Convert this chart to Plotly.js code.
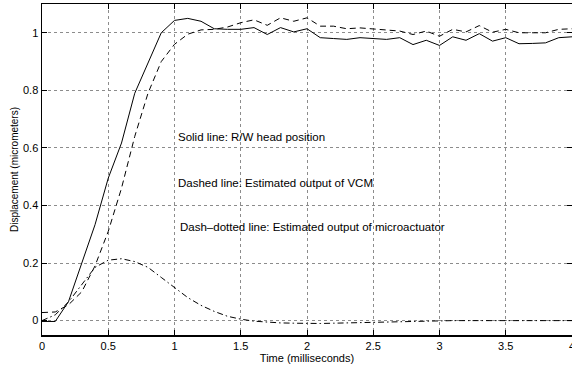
<!DOCTYPE html>
<html>
<head>
<meta charset="utf-8">
<script src="https://cdn.plot.ly/plotly-3.0.1.min.js"></script>
<style>html,body{margin:0;padding:0;background:#fff;overflow:hidden}#chart{width:572px;height:367px}</style>
</head>
<body>
<div id="chart"></div>
<script>
// time axis (milliseconds), sampled every 0.1 ms
const time = [0,0.1,0.2,0.3,0.4,0.5,0.6,0.7,0.8,0.9,1.0,1.1,1.2,1.3,1.4,1.5,1.6,1.7,1.8,1.9,2.0,
  2.1,2.2,2.3,2.4,2.5,2.6,2.7,2.8,2.9,3.0,3.1,3.2,3.3,3.4,3.5,3.6,3.7,3.8,3.9,4.0];
// Solid line: R/W head position
const headPosition = [-0.003,-0.003,0.066,0.2,0.333,0.495,0.617,0.79,0.896,1.0,1.043,1.05,1.04,1.014,1.012,1.012,1.018,0.994,1.018,1.003,1.014,
  0.983,0.98,0.977,0.983,0.98,0.977,0.983,0.959,0.974,0.956,0.986,0.974,0.997,0.971,0.983,0.962,0.963,0.965,0.983,0.986];
// Dashed line: estimated output of VCM
const vcmOutput = [0.028,0.03,0.055,0.1,0.19,0.31,0.46,0.64,0.79,0.9,0.96,0.995,1.01,1.012,1.02,1.035,1.045,1.026,1.052,1.04,1.052,
  1.023,1.023,1.014,1.017,1.014,1.011,1.006,0.994,1.006,0.988,1.012,1.003,1.025,1.002,1.012,1.0,1.0,1.0,1.012,1.014];
// Dash-dotted line: estimated output of microactuator
const microOutput = [0,0.02,0.065,0.125,0.185,0.21,0.215,0.205,0.185,0.15,0.115,0.08,0.053,0.032,0.015,0.005,-0.002,-0.006,-0.008,-0.009,-0.01,
  -0.01,-0.009,-0.008,-0.006,-0.004,-0.003,-0.003,-0.002,-0.002,-0.001,0,0,0,0,0,0,0,0,0,0];

const xTicks = [0,0.5,1,1.5,2,2.5,3,3.5,4];
const xTickText = ['0','0.5','1','1.5','2','2.5','3','3.5','4'];
const yTicks = [0,0.2,0.4,0.6,0.8,1];
const yTickText = ['0','0.2','0.4','0.6','0.8','1'];

const notes = [
  {text:'Solid line: R/W head position', x:1.027, y:0.637},
  {text:'Dashed line: Estimated output of VCM', x:1.027, y:0.478},
  {text:'Dash\u2013dotted line: Estimated output of microactuator', x:1.045, y:0.325}
];

const font = 'Liberation Sans, Arial, Helvetica, sans-serif';
const traces = [
  {x:time, y:headPosition, mode:'lines', line:{color:'#000', width:1, dash:'solid'}, hoverinfo:'skip'},
  {x:time, y:vcmOutput, mode:'lines', line:{color:'#000', width:1, dash:'6px,4px'}, hoverinfo:'skip'},
  {x:time, y:microOutput, mode:'lines', line:{color:'#000', width:1, dash:'6px,3px,1.5px,3px'}, hoverinfo:'skip'}
];
const axisCommon = {
  showline:true, mirror:'ticks', linecolor:'#000', linewidth:1.5,
  ticks:'inside', ticklen:5, tickcolor:'#000', tickwidth:1,
  showgrid:true, gridcolor:'#8c8c8c', gridwidth:1, griddash:'dot',
  zeroline:false, tickfont:{family:font, size:11, color:'#000'}, tickmode:'array',
  ticklabeloverflow:'allow'
};
const layout = {
  width:572, height:367, showlegend:false,
  paper_bgcolor:'#fff', plot_bgcolor:'#fff',
  margin:{l:42, r:0, t:4, b:32},
  xaxis: Object.assign({}, axisCommon, {range:[0,4], tickvals:xTicks, ticktext:xTickText,
    title:{text:'Time (milliseconds)', font:{family:font, size:11, color:'#000'}, standoff:1}}),
  yaxis: Object.assign({}, axisCommon, {range:[-0.05,1.1], tickvals:yTicks, ticktext:yTickText,
    title:{text:'Displacement (micrometers)', font:{family:font, size:10, color:'#000'}, standoff:2}}),
  annotations: notes.map(n => ({text:n.text, x:n.x, y:n.y, xref:'x', yref:'y', xanchor:'left', yanchor:'middle',
    xshift:-2, showarrow:false, font:{family:font, size:11.5, color:'#000'}}))
};
Plotly.newPlot('chart', traces, layout, {displayModeBar:false, staticPlot:true});
</script>
</body>
</html>
